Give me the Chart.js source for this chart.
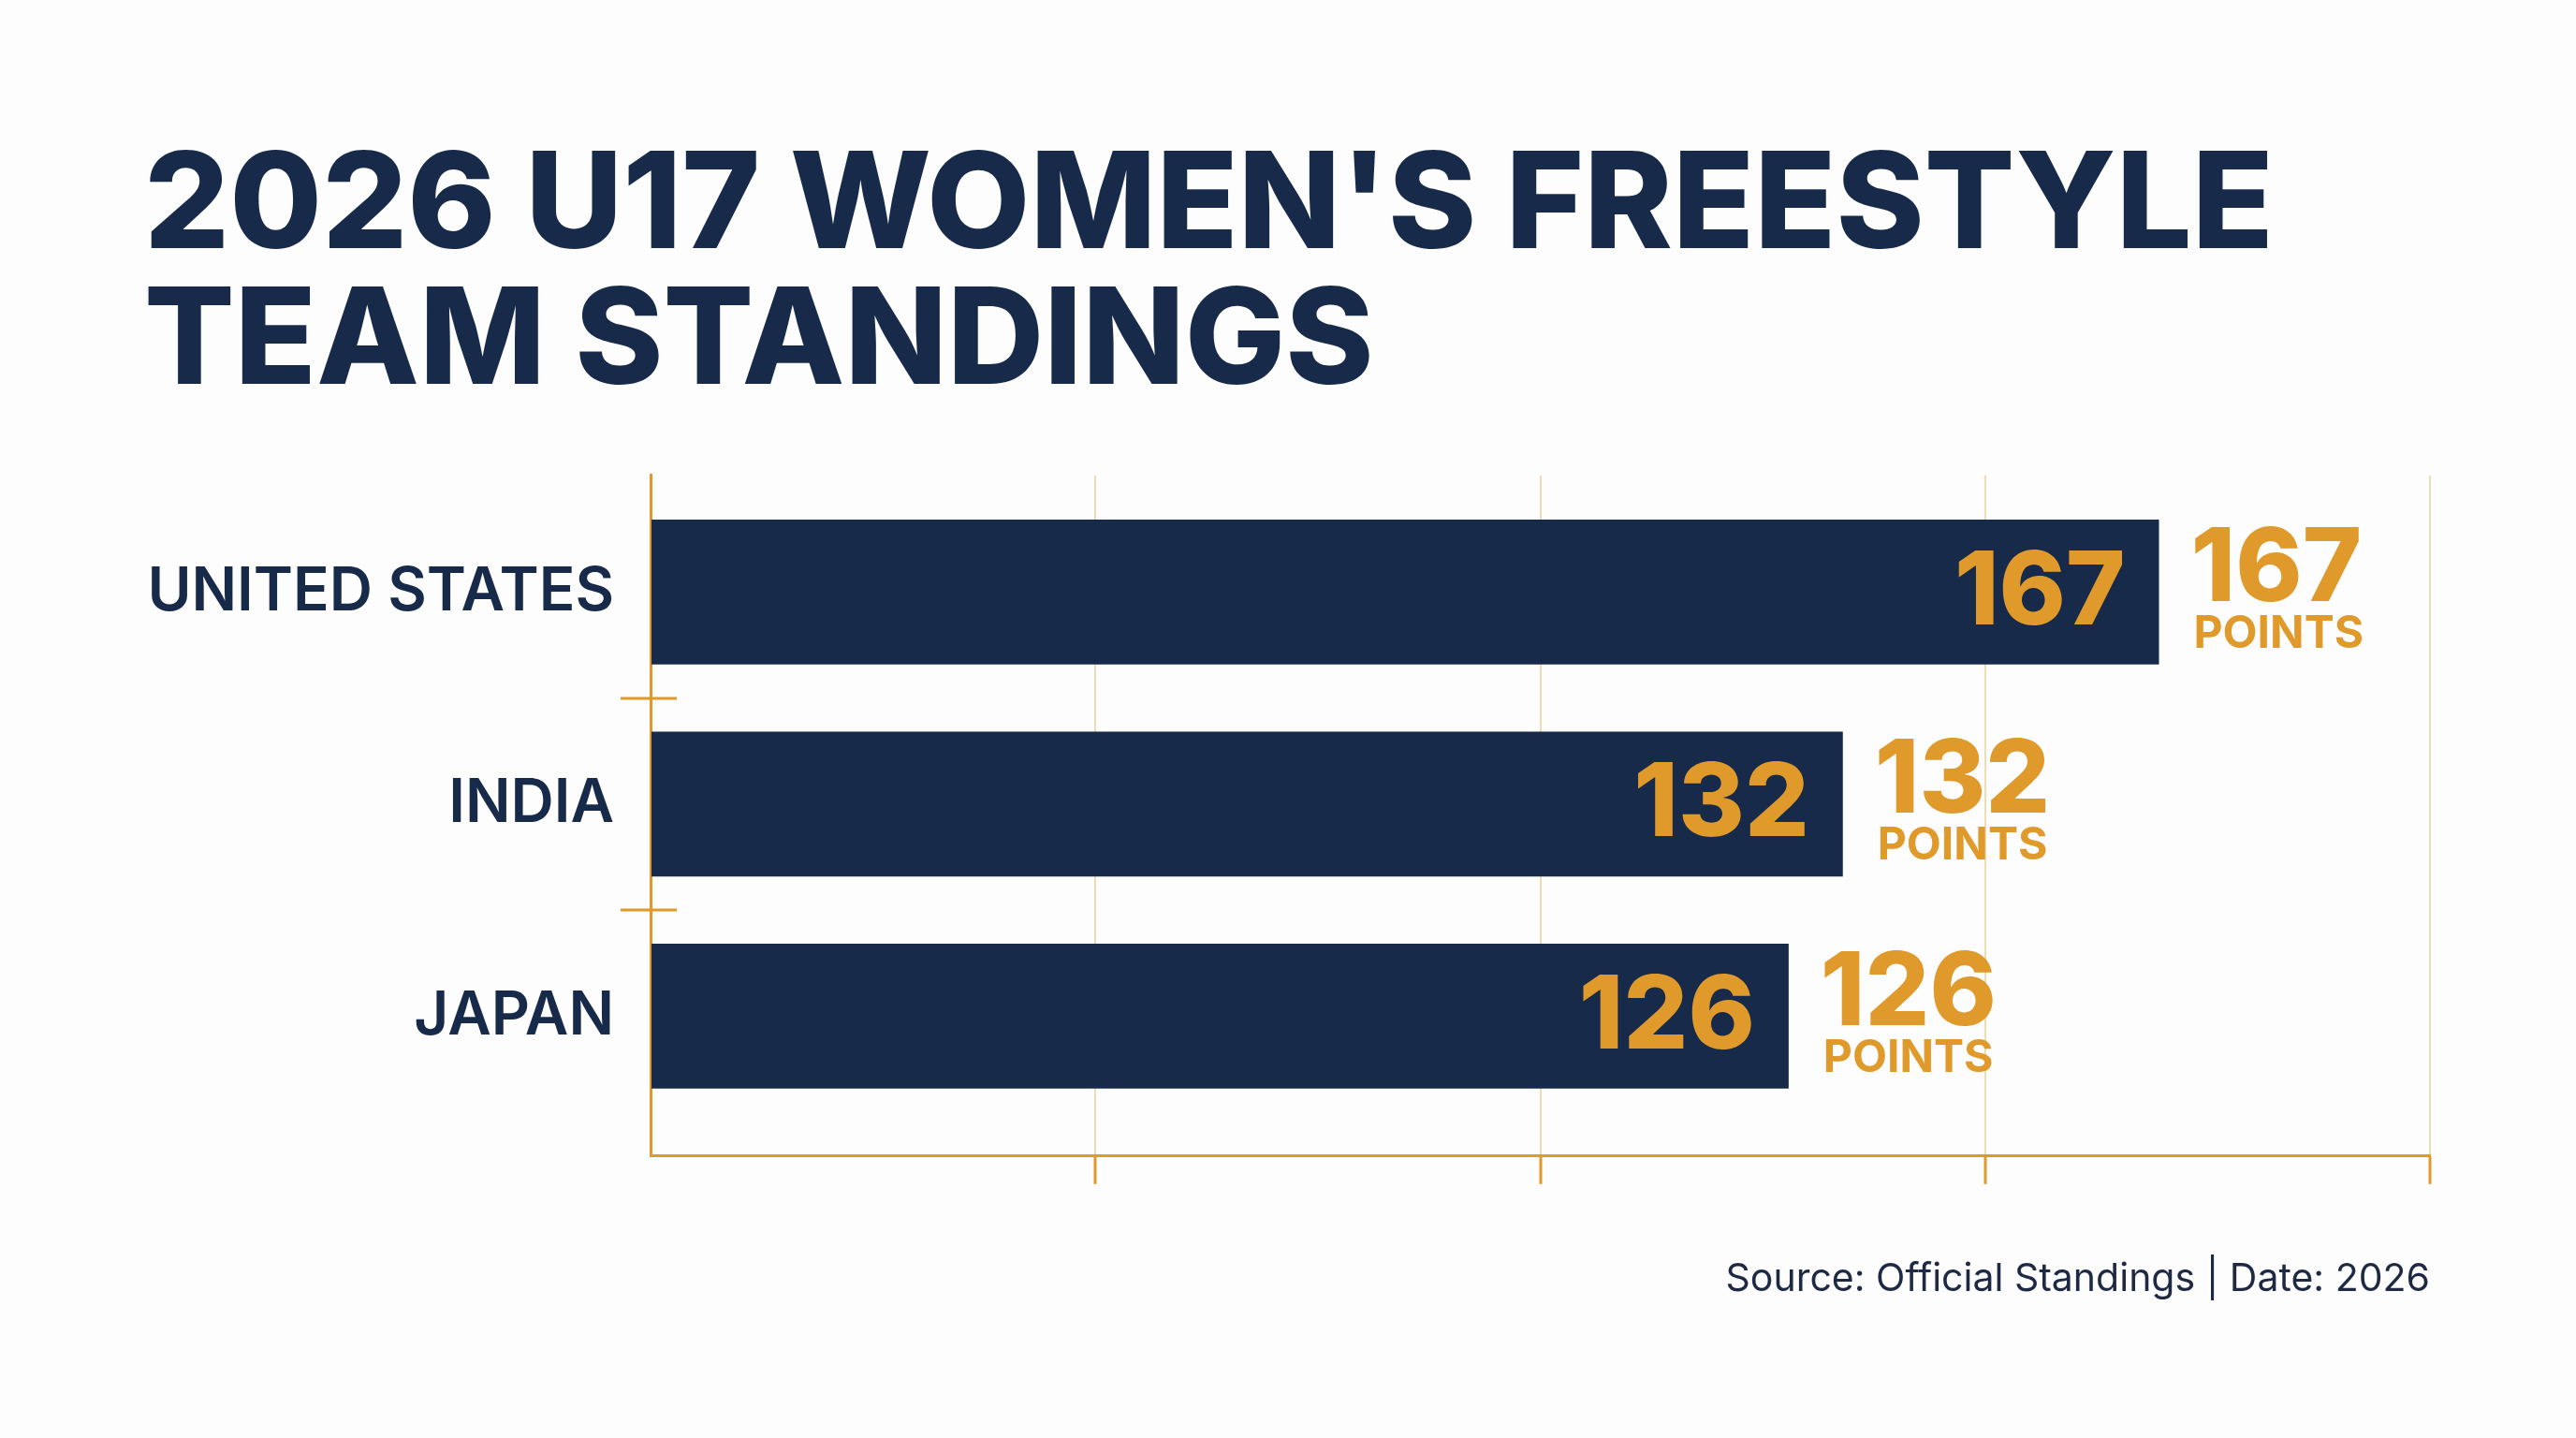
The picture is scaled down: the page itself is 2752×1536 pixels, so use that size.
<!DOCTYPE html>
<html>
<head>
<meta charset="utf-8">
<script src="https://cdn.jsdelivr.net/npm/chart.js@4.4.1/dist/chart.umd.min.js"></script>
<style>
  html, body { margin:0; padding:0; background:#fdfdfd; }
  canvas { display:block; }
</style>
</head>
<body>
<canvas id="standings" width="2752" height="1536" style="width:2752px;height:1536px"></canvas>
<script>
const teams = ["UNITED STATES", "INDIA", "JAPAN"];
const points = [167, 132, 126];
const unitLabel = "POINTS";
const titleLines = ["2026 U17 WOMEN'S FREESTYLE", "TEAM STANDINGS"];
const sourceNote = "Source: Official Standings | Date: 2026";
const xMax = 197;
const xSteps = 4;

const NAVY = "#172a4a";
const GOLD = "#e09a2b";
const GRID = "#f0dcb2";

// labels on the bars + the stacked "167 / POINTS" block after each bar
const barLabels = {
  id:"barLabels",
  afterDatasetsDraw(chart){
    const ctx = chart.ctx;
    const meta = chart.getDatasetMeta(0);
    ctx.save();
    ctx.fillStyle = GOLD;
    ctx.textBaseline = "middle";
    meta.data.forEach((bar, i) => {
      ctx.font = "800 108px Inter";
      ctx.textAlign = "right";
      ctx.fillText(String(points[i]), bar.x - 36, bar.y + 2);
      ctx.textAlign = "left";
      ctx.fillText(String(points[i]), bar.x + 34, bar.y - 23);
      ctx.font = "700 48px Inter";
      ctx.fillText(unitLabel, bar.x + 37, bar.y + 45);
    });
    ctx.restore();
  }
};

// separators between categories, crossing the left axis
const separators = {
  id:"separators",
  afterDraw(chart){
    const y = chart.scales.y, left = chart.chartArea.left, ctx = chart.ctx;
    ctx.save();
    ctx.strokeStyle = GOLD;
    ctx.lineWidth = 3;
    for(let i = 0; i < teams.length - 1; i++){
      const py = Math.round(y.getPixelForValue(i + 0.5));
      ctx.beginPath();
      ctx.moveTo(left - 32, py);
      ctx.lineTo(left + 28, py);
      ctx.stroke();
    }
    ctx.restore();
  }
};

function draw(){
  new Chart(document.getElementById("standings"), {
    type:"bar",
    data:{
      datasets:[{
        data: points.map((v, i) => ({ x:v, y:i })),
        backgroundColor: NAVY,
        borderWidth: 0,
        barPercentage: 0.683,
        categoryPercentage: 1
      }]
    },
    options:{
      indexAxis:"y",
      responsive:false,
      devicePixelRatio:1,
      animation:false,
      layout:{ padding:{ top:100, left:154, right:156, bottom:145 } },
      plugins:{
        legend:{ display:false },
        tooltip:{ enabled:false },
        title:{
          display:true,
          text:titleLines,
          align:"start",
          color:NAVY,
          font:{ family:"Inter", weight:"800", size:143, lineHeight:1.01 },
          padding:{ top:50, bottom:69 }
        },
        subtitle:{
          display:true,
          text:sourceNote,
          position:"bottom",
          align:"end",
          color:"#1e2a44",
          font:{ family:"Inter", weight:"400", size:41, lineHeight:1.2 },
          padding:{ top:77, bottom:0 }
        }
      },
      scales:{
        x:{
          type:"linear",
          min:0,
          max:xMax,
          afterBuildTicks(scale){
            scale.ticks = Array.from({ length:xSteps + 1 }, (_, k) => ({ value:k * xMax / xSteps }));
          },
          afterFit(scale){ scale.height = 30; },
          ticks:{ display:false },
          grid:{
            color:GRID,
            lineWidth:2,
            drawTicks:true,
            tickLength:30,
            tickWidth:3,
            tickColor: c => c.index === 0 ? "rgba(0,0,0,0)" : GOLD
          },
          border:{ display:true, color:GOLD, width:3 }
        },
        y:{
          type:"linear",
          reverse:true,
          offset:false,
          min:-0.55,
          max:2.66,
          afterBuildTicks(scale){
            scale.ticks = teams.map((_, i) => ({ value:i }));
          },
          afterFit(scale){ scale.width = 541; },
          ticks:{
            color:NAVY,
            padding:39,
            font:{ family:"Inter", weight:"600", size:64 },
            callback: v => teams[v]
          },
          grid:{ display:false, drawTicks:false, offset:false },
          border:{ display:true, color:GOLD, width:3 }
        }
      }
    },
    plugins:[barLabels, separators]
  });
}

Promise.all([
  document.fonts.load("800 108px Inter"),
  document.fonts.load("700 48px Inter"),
  document.fonts.load("600 64px Inter"),
  document.fonts.load("400 41px Inter")
]).then(draw, draw);
</script>
</body>
</html>
